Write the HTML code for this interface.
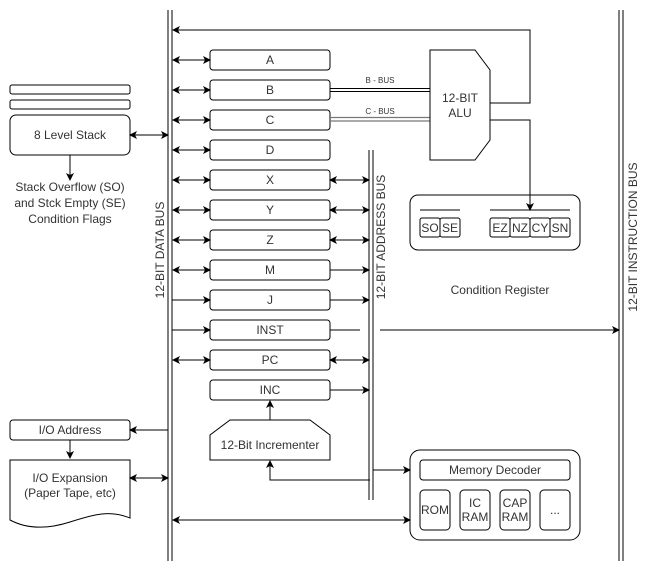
<!DOCTYPE html>
<html><head><style>body{margin:0;background:#fff}svg{display:block}text{font-family:"Liberation Sans",Arial,sans-serif;fill:#333}</style></head><body>
<svg width="660" height="571" viewBox="0 0 660 571" xmlns="http://www.w3.org/2000/svg">
<defs>
<marker id="a" markerWidth="8" markerHeight="8" refX="7" refY="4" orient="auto-start-reverse" markerUnits="userSpaceOnUse"><path d="M0,0 L8,4 L0,8 L2,4 Z" fill="#000"/></marker>
</defs>
<g stroke="#000" stroke-width="1" fill="none">
<!-- buses -->
<line x1="168" y1="10" x2="168" y2="561"/><line x1="172" y1="10" x2="172" y2="561"/>
<line x1="619" y1="10" x2="619" y2="561"/><line x1="623" y1="10" x2="623" y2="561"/>
<line x1="369" y1="150" x2="369" y2="500"/><line x1="373" y1="150" x2="373" y2="500"/>
<!-- registers -->
<g fill="#fff">
<rect x="210" y="50" width="120" height="20" rx="3"/>
<rect x="210" y="80" width="120" height="20" rx="3"/>
<rect x="210" y="110" width="120" height="20" rx="3"/>
<rect x="210" y="140" width="120" height="20" rx="3"/>
<rect x="210" y="170" width="120" height="20" rx="3"/>
<rect x="210" y="200" width="120" height="20" rx="3"/>
<rect x="210" y="230" width="120" height="20" rx="3"/>
<rect x="210" y="260" width="120" height="20" rx="3"/>
<rect x="210" y="290" width="120" height="20" rx="3"/>
<rect x="210" y="320" width="120" height="20" rx="3"/>
<rect x="210" y="350" width="120" height="20" rx="3"/>
<rect x="210" y="380" width="120" height="20" rx="3"/>
</g>
<!-- left reg arrows -->
<g marker-start="url(#a)" marker-end="url(#a)">
<line x1="173" y1="60" x2="210" y2="60"/>
<line x1="173" y1="90" x2="210" y2="90"/>
<line x1="173" y1="120" x2="210" y2="120"/>
<line x1="173" y1="150" x2="210" y2="150"/>
<line x1="173" y1="180" x2="210" y2="180"/>
<line x1="173" y1="210" x2="210" y2="210"/>
<line x1="173" y1="240" x2="210" y2="240"/>
<line x1="173" y1="270" x2="210" y2="270"/>
<line x1="173" y1="360" x2="210" y2="360"/>
<line x1="330" y1="180" x2="369" y2="180"/>
<line x1="330" y1="210" x2="369" y2="210"/>
<line x1="330" y1="240" x2="369" y2="240"/>
<line x1="330" y1="360" x2="369" y2="360"/>
<line x1="130" y1="135" x2="168" y2="135"/>
<line x1="130" y1="478" x2="168" y2="478"/>
<line x1="173" y1="520" x2="410" y2="520"/>
</g>
<g marker-end="url(#a)">
<line x1="172" y1="300" x2="210" y2="300"/>
<line x1="172" y1="330" x2="210" y2="330"/>
<line x1="330" y1="270" x2="369" y2="270"/>
<line x1="330" y1="300" x2="369" y2="300"/>
<line x1="330" y1="390" x2="369" y2="390"/>
<line x1="380" y1="330" x2="619" y2="330"/>
<polyline points="490,103 530,103 530,30 173,30"/>
<polyline points="490,120 530,120 530,210"/>
<line x1="70" y1="155" x2="70" y2="180"/>
<line x1="70" y1="440" x2="70" y2="458"/>
<line x1="168" y1="430" x2="130" y2="430"/>
<line x1="270" y1="420" x2="270" y2="401"/>
<polyline points="370,480 270,480 270,461"/>
<line x1="373" y1="470" x2="410" y2="470"/>
</g>
<line x1="330" y1="330" x2="360" y2="330"/>
<!-- B/C bus -->
<line x1="330" y1="88.5" x2="430" y2="88.5"/><line x1="330" y1="91.5" x2="430" y2="91.5"/>
<g stroke="#777" stroke-width="1.3"><line x1="330" y1="117.5" x2="430" y2="117.5"/><line x1="330" y1="121" x2="430" y2="121"/></g>
<!-- ALU -->
<path d="M430,50 L475,50 L490,70 L490,140 L475,160 L430,160 Z" fill="#fff"/>
<!-- condition register -->
<rect x="410" y="195" width="170" height="55" rx="8"/>
<line x1="420" y1="210" x2="460" y2="210"/><line x1="490" y1="210" x2="570" y2="210"/>
<g fill="#fff"><rect x="420" y="218" width="20" height="19" rx="2"/><rect x="440" y="218" width="20" height="19" rx="2"/>
<rect x="490" y="218" width="20" height="19" rx="2"/><rect x="510" y="218" width="20" height="19" rx="2"/><rect x="530" y="218" width="20" height="19" rx="2"/><rect x="550" y="218" width="20" height="19" rx="2"/></g>
<!-- stack -->
<rect x="10" y="85" width="120" height="9" rx="2"/><rect x="10" y="100" width="120" height="9" rx="2"/>
<rect x="10" y="115" width="120" height="40" rx="6"/>
<!-- IO -->
<rect x="10" y="420" width="120" height="20" rx="3"/>
<path d="M10,460 L130,460 L130,518 C110,510 95,514 70,522 C45,530 25,528 10,520 Z"/>
<!-- incrementer -->
<path d="M230,420 L310,420 L330,435 L330,460 L210,460 L210,435 Z"/>
<!-- memory -->
<rect x="410" y="450" width="170" height="90" rx="10"/>
<rect x="420" y="460" width="150" height="20" rx="3"/>
<rect x="420" y="490" width="30" height="40" rx="4"/><rect x="460" y="490" width="30" height="40" rx="4"/>
<rect x="500" y="490" width="30" height="40" rx="4"/><rect x="540" y="490" width="30" height="40" rx="4"/>
</g>
<g font-size="12" text-anchor="middle">
<text x="270" y="64">A</text><text x="270" y="94">B</text><text x="270" y="124">C</text><text x="270" y="154">D</text>
<text x="270" y="184">X</text><text x="270" y="214">Y</text><text x="270" y="244">Z</text><text x="270" y="274">M</text>
<text x="270" y="304">J</text><text x="270" y="334">INST</text><text x="270" y="364">PC</text><text x="270" y="394">INC</text>
<text x="460" y="102">12-BIT</text><text x="460" y="117">ALU</text>
<text x="430" y="232">SO</text><text x="450" y="232">SE</text><text x="500" y="232">EZ</text><text x="520" y="232">NZ</text><text x="540" y="232">CY</text><text x="560" y="232">SN</text>
<text x="500" y="294">Condition Register</text>
<text x="70" y="139">8 Level Stack</text>
<text x="70" y="191">Stack Overflow (SO)</text><text x="70" y="207">and Stck Empty (SE)</text><text x="70" y="223">Condition Flags</text>
<text x="70" y="434">I/O Address</text>
<text x="70" y="482">I/O Expansion</text><text x="70" y="497">(Paper Tape, etc)</text>
<text x="270" y="449">12-Bit Incrementer</text>
<text x="495" y="474">Memory Decoder</text>
<text x="435" y="514">ROM</text>
<text x="475" y="507">IC</text><text x="475" y="521">RAM</text>
<text x="515" y="507">CAP</text><text x="515" y="521">RAM</text>
<text x="555" y="514">...</text>
<text x="164" y="250" transform="rotate(-90 164 250)">12-BIT DATA BUS</text>
<text x="385" y="237" transform="rotate(-90 385 237)">12-BIT ADDRESS BUS</text>
<text x="637" y="237" transform="rotate(-90 637 237)">12-BIT INSTRUCTION BUS</text>
</g>
<g font-size="8" text-anchor="middle"><text x="380" y="83">B - BUS</text><text x="380" y="114">C - BUS</text></g>
</svg>
</body></html>
